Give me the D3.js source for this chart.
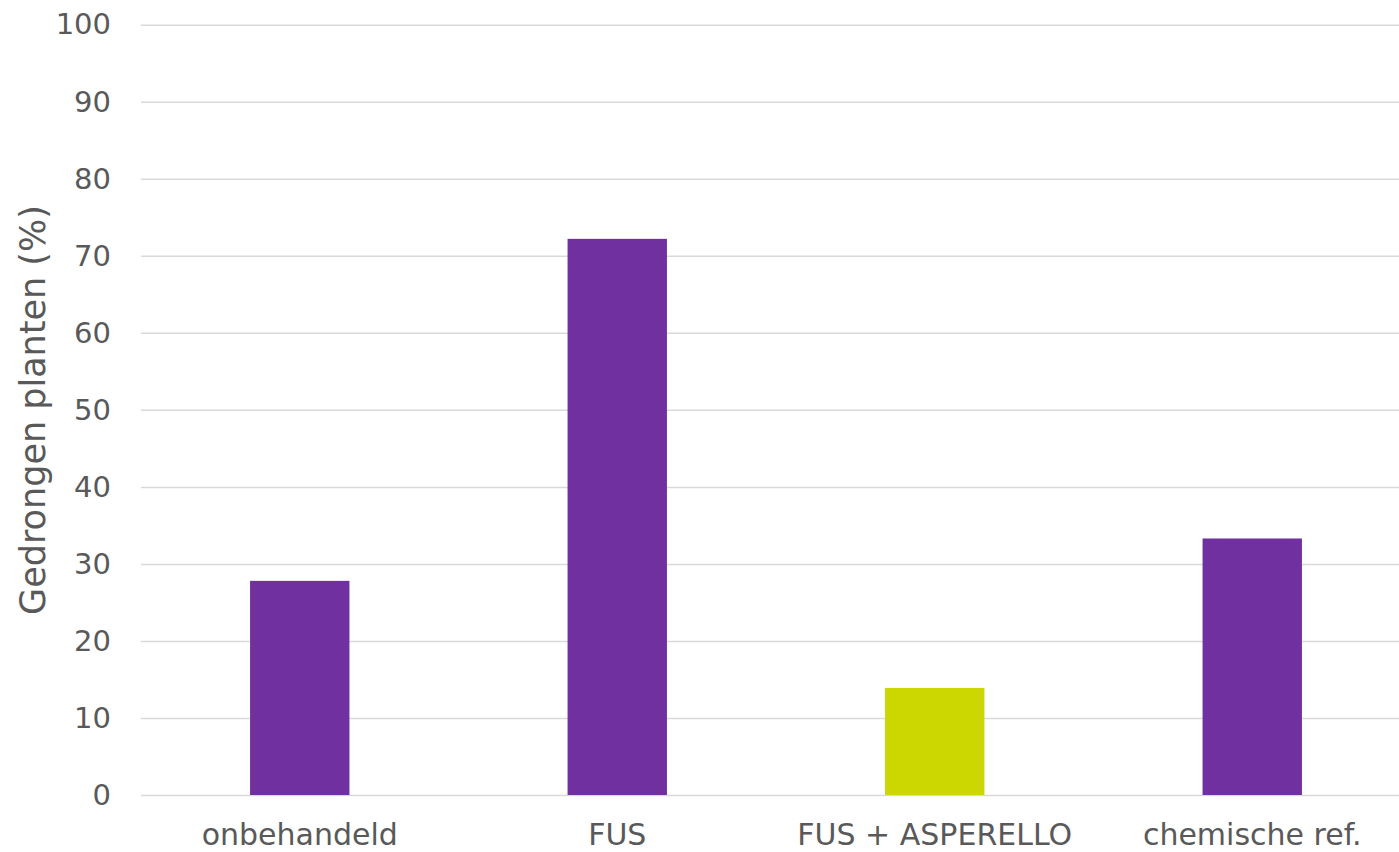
<!DOCTYPE html>
<html>
<head>
<meta charset="utf-8">
<script src="https://cdn.jsdelivr.net/npm/d3@7"></script>
<style>
  body { margin: 0; background: #fff; }
  svg text { font-family: "DejaVu Sans", sans-serif; fill: #595959; }
</style>
</head>
<body>
<div id="chart"></div>
<script>
var categories = ["onbehandeld", "FUS", "FUS + ASPERELLO", "chemische ref."]
var values = [27.8, 72.2, 13.9, 33.3]
var barColors = ["#7030a0", "#7030a0", "#ccd600", "#7030a0"]
var yTicks = [0, 10, 20, 30, 40, 50, 60, 70, 80, 90, 100]

var width = 1399, height = 852
var margin = { top: 24.7, left: 141, bottom: 795 }

var svg = d3.select("#chart")
  .append("svg")
  .attr("width", width)
  .attr("height", height)

// X scale, plot runs past the right edge like the original crop
var xScale = d3.scaleBand()
  .domain(categories)
  .range([margin.left, 1411])
  .paddingInner(0.687)
  .paddingOuter(0.3435)

var yScale = d3.scaleLinear()
  .domain([0, 100])
  .range([margin.bottom, margin.top])

// Y grid
var yGrid = d3.axisLeft(yScale)
  .tickValues(yTicks)
  .tickSize(-(1411 - margin.left))
  .tickFormat("")

svg.append("g")
  .attr("transform", `translate(${margin.left},0)`)
  .attr("class", "grid")
  .call(yGrid)
  .call(g => g.select(".domain").remove())
  .selectAll("line")
  .style("stroke", "#d9d9d9")
  .style("stroke-width", 1.5)

// Y axis labels
var yAxis = d3.axisLeft(yScale)
  .tickValues(yTicks)
  .tickSize(0)
  .tickPadding(30)

svg.append("g")
  .attr("transform", `translate(${margin.left},0)`)
  .attr("class", "y-axis")
  .call(yAxis)
  .call(g => g.select(".domain").remove())
  .selectAll("text")
  .style("font-size", "29px")
  .style("font-family", "DejaVu Sans")
  .attr("fill", "#595959")

// Bars
svg.append("g")
  .attr("class", "bars")
  .selectAll("rect")
  .data(values)
  .enter()
  .append("rect")
  .attr("x", (d, i) => xScale(categories[i]))
  .attr("y", d => yScale(d))
  .attr("width", xScale.bandwidth())
  .attr("height", d => yScale(0) - yScale(d))
  .attr("fill", (d, i) => barColors[i])

// X axis labels
var xAxis = d3.axisBottom(xScale)
  .tickSize(0)
  .tickPadding(29)

svg.append("g")
  .attr("transform", `translate(0,${margin.bottom})`)
  .attr("class", "x-axis")
  .call(xAxis)
  .call(g => g.select(".domain").remove())
  .selectAll("text")
  .style("font-size", "30px")
  .style("font-family", "DejaVu Sans")
  .attr("fill", "#595959")

// Y title
svg.append("text")
  .attr("transform", "translate(45,410) rotate(-90)")
  .attr("text-anchor", "middle")
  .style("font-size", "35px")
  .text("Gedrongen planten (%)")
</script>
</body>
</html>
